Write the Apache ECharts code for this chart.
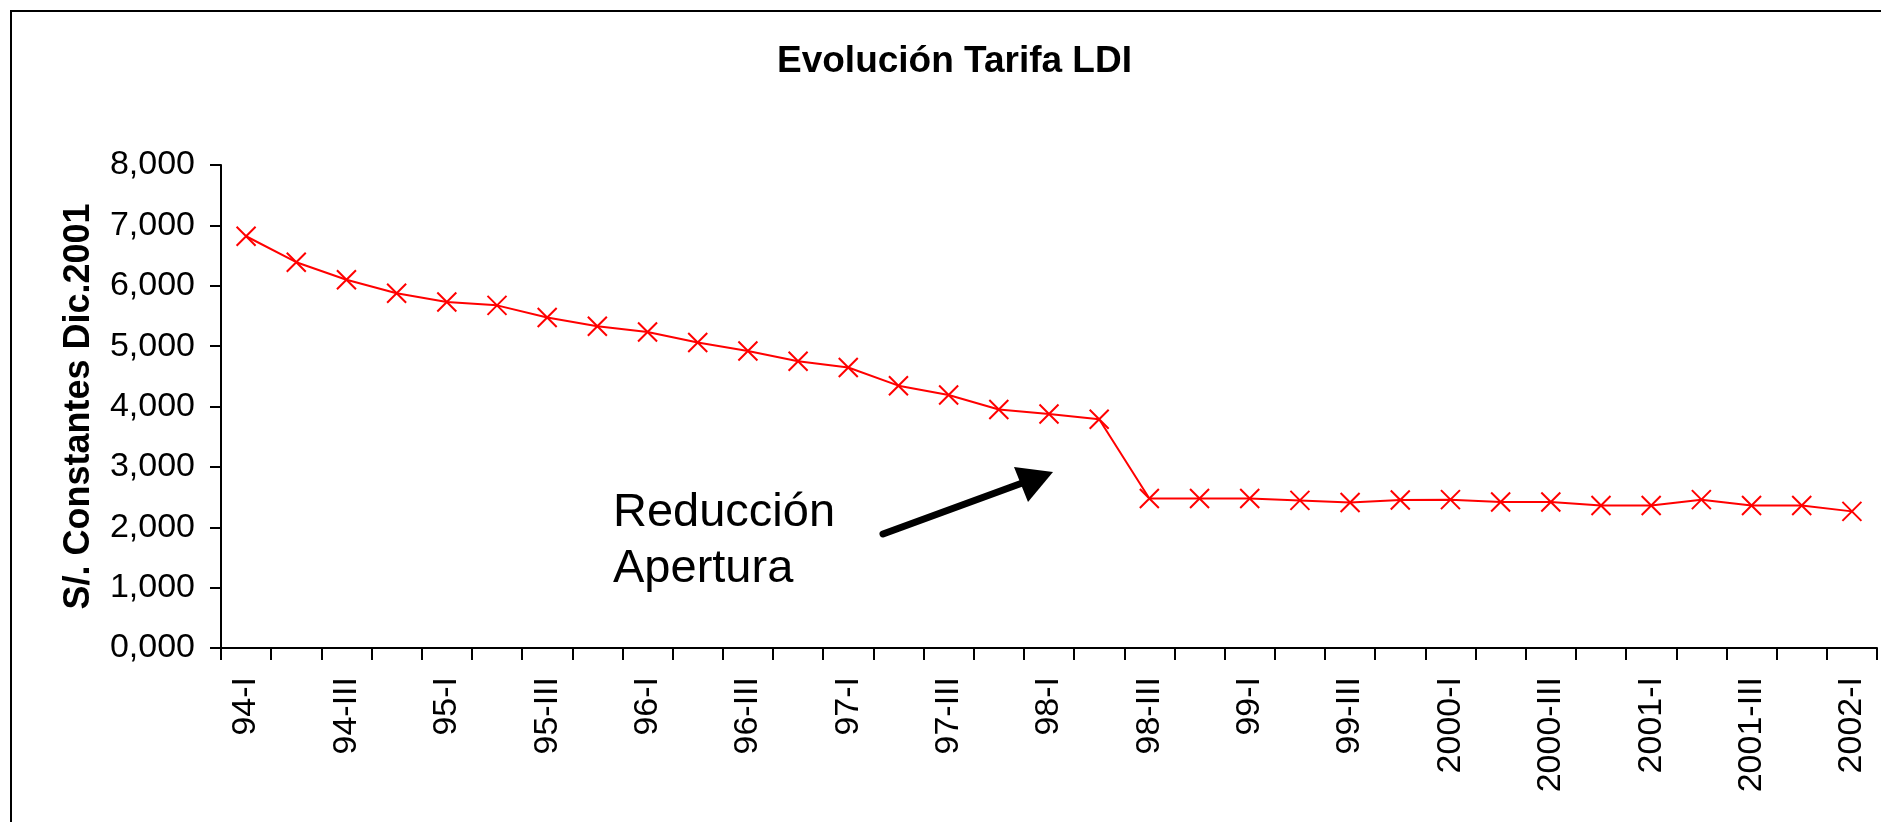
<!DOCTYPE html>
<html>
<head>
<meta charset="utf-8">
<script src="https://cdn.jsdelivr.net/npm/echarts@6/dist/echarts.min.js"></script>
<style>
html,body{margin:0;padding:0;background:#fff;}
#c{width:1881px;height:822px;}
</style>
</head>
<body>
<div id="c"></div>
<script>
var categories = ['94-I','94-II','94-III','94-IV','95-I','95-II','95-III','95-IV',
  '96-I','96-II','96-III','96-IV','97-I','97-II','97-III','97-IV',
  '98-I','98-II','98-III','98-IV','99-I','99-II','99-III','99-IV',
  '2000-I','2000-II','2000-III','2000-IV','2001-I','2001-II','2001-III','2001-IV','2002-I'];
var tarifa = [6820, 6390, 6100, 5875, 5730, 5675, 5475, 5330, 5235, 5060, 4920, 4750, 4645, 4345, 4190, 3950, 3875, 3790,
  2475, 2475, 2475, 2445, 2410, 2450, 2457, 2417, 2417, 2360, 2360, 2457, 2360, 2360, 2263];
var yTickLabels = ['0,000','1,000','2,000','3,000','4,000','5,000','6,000','7,000','8,000'];
var titleText = 'Evolución Tarifa LDI';
var yAxisName = 'S/. Constantes Dic.2001';
var noteLines = ['Reducción', 'Apertura'];

var FONT = '"Liberation Sans", Arial, sans-serif';
var chart = echarts.init(document.getElementById('c'), null, {renderer: 'canvas'});
chart.setOption({
  backgroundColor: '#fff',
  animation: false,
  title: {
    text: titleText,
    left: 777,
    top: 43,
    padding: 0,
    textStyle: {fontFamily: FONT, fontWeight: 'bold', fontSize: 37, color: '#000'}
  },
  grid: {left: 221, right: 4, top: 165, bottom: 174, containLabel: false},
  xAxis: {
    type: 'category',
    data: categories,
    boundaryGap: true,
    axisLine: {lineStyle: {color: '#000', width: 2}},
    axisTick: {show: true, interval: 0, length: 12, lineStyle: {color: '#000', width: 2}},
    axisLabel: {interval: 1, rotate: 90, margin: 29, fontFamily: FONT, fontSize: 34, color: '#000'},
    splitLine: {show: false}
  },
  yAxis: {
    type: 'value',
    min: 0, max: 8000, interval: 1000,
    name: yAxisName,
    nameLocation: 'middle',
    nameGap: 124,
    nameRotate: 90,
    nameTextStyle: {fontFamily: FONT, fontWeight: 'bold', fontSize: 36, color: '#000'},
    axisLine: {show: true, lineStyle: {color: '#000', width: 2}},
    axisTick: {show: true, length: 11, lineStyle: {color: '#000', width: 2}},
    axisLabel: {
      margin: 26, fontFamily: FONT, fontSize: 34, color: '#000',
      formatter: function (v) { return yTickLabels[Math.round(v / 1000)]; }
    },
    splitLine: {show: false}
  },
  series: [{
    type: 'line',
    data: tarifa,
    symbol: 'path://M0,0L10,10M10,0L0,10',
    symbolSize: 19,
    showAllSymbol: true,
    lineStyle: {color: '#ff0000', width: 2},
    itemStyle: {color: '#ff0000', borderColor: '#ff0000', borderWidth: 2}
  }],
  graphic: [
    {type: 'rect', shape: {x: 11, y: 11, width: 1900, height: 900},
     style: {fill: 'none', stroke: '#000', lineWidth: 2}, silent: true},
    {type: 'text', left: 613, top: 485,
     style: {text: noteLines.join('\n'), fontFamily: FONT, fontSize: 47, lineHeight: 56, fill: '#000'}},
    {type: 'line', shape: {x1: 883, y1: 534, x2: 1025, y2: 482},
     style: {stroke: '#000', lineWidth: 7, lineCap: 'round'}},
    {type: 'polygon', shape: {points: [[1053, 472], [1014, 467], [1028, 502]]},
     style: {fill: '#000'}}
  ]
});
</script>
</body>
</html>
